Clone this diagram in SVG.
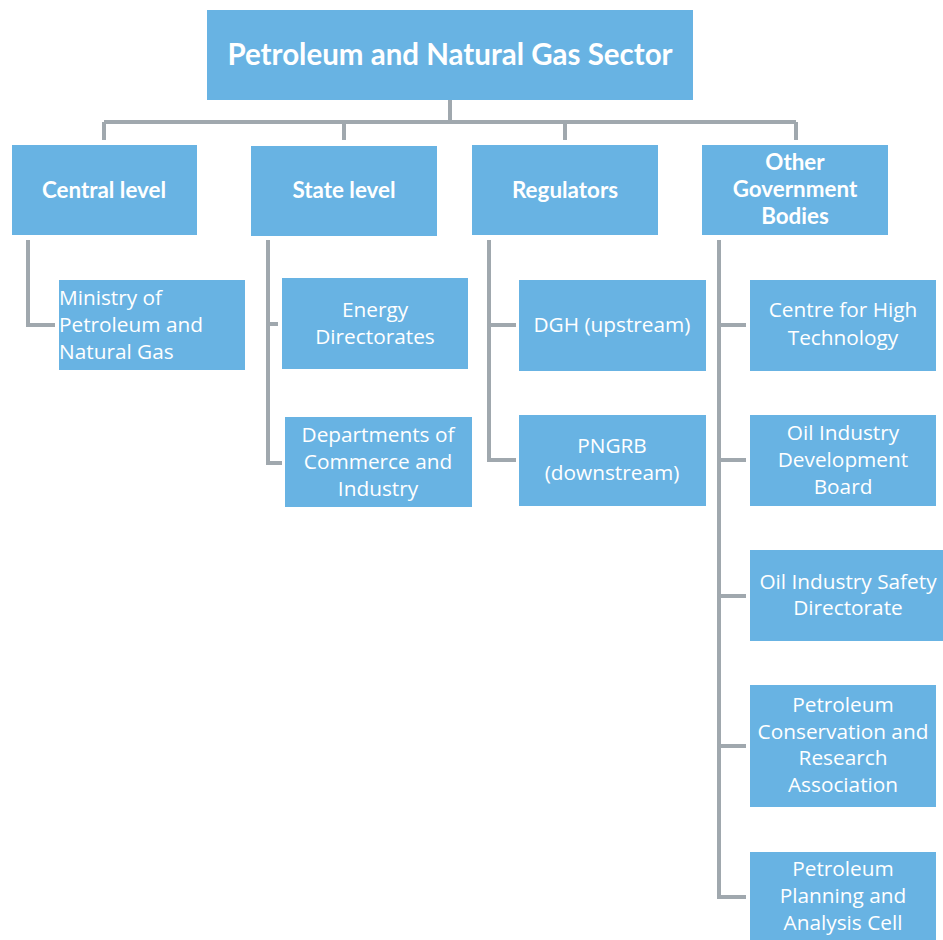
<svg xmlns="http://www.w3.org/2000/svg" width="943" height="940" viewBox="0 0 943 940">
<style>
.box{fill:#68B3E3;}
.h{font-family:Lato,"Open Sans","Liberation Sans",sans-serif;font-weight:bold;fill:#fff;text-anchor:middle;}
.t{font-family:"Open Sans","Liberation Sans",sans-serif;fill:#fff;text-anchor:middle;font-size:20.8px;}
.c{fill:none;stroke:#A0A8AE;stroke-width:4;}
</style>
<rect width="943" height="940" fill="#fff"/>
<g id="connectors">
<path class="c" d="M450,100 V122 M104,122 H796 M104,122 V140 M344,122 V140 M565,122 V140 M796,122 V140"/>
<path class="c" d="M28,240 V325 H55"/>
<path class="c" d="M268,240 V463 H282 M268,324 H278"/>
<path class="c" d="M489,240 V460 H516 M489,325 H516"/>
<path class="c" d="M719,240 V897 H746 M719,325 H746 M719,460 H746 M719,596 H746 M719,746 H746"/>
</g>
<g id="root"><rect class="box" x="207" y="10" width="486" height="90"/><text class="h" x="450" y="65" font-size="29.5">Petroleum and Natural Gas Sector</text></g>
<g id="central"><rect class="box" x="12" y="145" width="185" height="90"/><text class="h" x="104" y="198" font-size="22.4">Central level</text></g>
<g id="state"><rect class="box" x="251" y="146" width="186" height="90"/><text class="h" x="344" y="198" font-size="22.4">State level</text></g>
<g id="regulators"><rect class="box" x="472" y="145" width="186" height="90"/><text class="h" x="565" y="198" font-size="22.4">Regulators</text></g>
<g id="other"><rect class="box" x="702" y="145" width="186" height="90"/><text class="h" x="795" y="170" font-size="22.4">Other</text><text class="h" x="795" y="197" font-size="22.4">Government</text><text class="h" x="795" y="224" font-size="22.4">Bodies</text></g>
<g id="ministry"><rect class="box" x="59" y="280" width="186" height="90"/><text class="t" x="59" y="305" style="text-anchor:start">Ministry of</text><text class="t" x="59" y="332" style="text-anchor:start">Petroleum and</text><text class="t" x="59" y="359" style="text-anchor:start">Natural Gas</text></g>
<g id="energy"><rect class="box" x="282" y="278" width="186" height="91"/><text class="t" x="375" y="317">Energy</text><text class="t" x="375" y="344">Directorates</text></g>
<g id="departments"><rect class="box" x="285" y="417" width="187" height="90"/><text class="t" x="378" y="442">Departments of</text><text class="t" x="378" y="469">Commerce and</text><text class="t" x="378" y="496">Industry</text></g>
<g id="dgh"><rect class="box" x="519" y="280" width="187" height="91"/><text class="t" x="612" y="332">DGH (upstream)</text></g>
<g id="pngrb"><rect class="box" x="519" y="415" width="187" height="91"/><text class="t" x="612" y="453">PNGRB</text><text class="t" x="612" y="480">(downstream)</text></g>
<g id="cht"><rect class="box" x="750" y="280" width="186" height="91"/><text class="t" x="843" y="317">Centre for High</text><text class="t" x="843" y="345">Technology</text></g>
<g id="oidb"><rect class="box" x="750" y="415" width="186" height="91"/><text class="t" x="843" y="440">Oil Industry</text><text class="t" x="843" y="467">Development</text><text class="t" x="843" y="494">Board</text></g>
<g id="oisd"><rect class="box" x="750" y="550" width="193" height="91"/><text class="t" x="848" y="589">Oil Industry Safety</text><text class="t" x="848" y="615">Directorate</text></g>
<g id="pcra"><rect class="box" x="750" y="685" width="186" height="122"/><text class="t" x="843" y="712">Petroleum</text><text class="t" x="843" y="739">Conservation and</text><text class="t" x="843" y="765">Research</text><text class="t" x="843" y="792">Association</text></g>
<g id="ppac"><rect class="box" x="750" y="852" width="186" height="88"/><text class="t" x="843" y="876">Petroleum</text><text class="t" x="843" y="903">Planning and</text><text class="t" x="843" y="930">Analysis Cell</text></g>
</svg>
